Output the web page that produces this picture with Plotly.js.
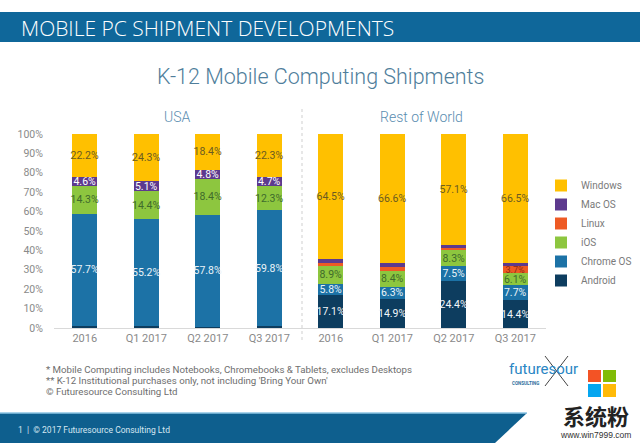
<!DOCTYPE html>
<html>
<head>
<meta charset="utf-8">
<script src="https://cdn.plot.ly/plotly-3.0.1.min.js"></script>
<style>
html,body{margin:0;padding:0;background:#fff;}
#chart{width:640px;height:443px;}
</style>
</head>
<body>
<div id="chart"></div>
<script>
// ---- data ----
const categories = ['2016', 'Q1 2017', 'Q2 2017', 'Q3 2017'];
const osNames = ['Android', 'Chrome OS', 'iOS', 'Linux', 'Mac OS', 'Windows'];

const usaAndroid = [1.2, 1.0, 0.6, 0.9];
const usaChrome  = [57.7, 55.2, 57.8, 59.8];
const usaIOS     = [14.3, 14.4, 18.4, 12.3];
const usaLinux   = [0.0, 0.0, 0.0, 0.0];
const usaMac     = [4.6, 5.1, 4.8, 4.7];
const usaWindows = [22.2, 24.3, 18.4, 22.3];

const rowAndroid = [17.1, 14.9, 24.4, 14.4];
const rowChrome  = [5.8, 6.3, 7.5, 7.7];
const rowIOS     = [8.9, 8.4, 8.3, 6.1];
const rowLinux   = [1.5, 1.7, 0.9, 3.7];
const rowMac     = [2.2, 2.0, 1.8, 1.6];
const rowWindows = [64.5, 66.6, 57.1, 66.5];

// which segments carry a printed label in the original
const usaLabelled = [false, true, true, false, true, true];
const rowLabelled = [[true,true,true,true],[true,true,true,true],[true,true,true,true],[false,false,false,true],[false,false,false,false],[true,true,true,true]];

const colors    = ['#0d3d5f', '#1c72a6', '#8dc63f', '#ee5a24', '#5d3a8e', '#ffc000'];
const textColor = ['#f2f6fa', '#eaf2f8', '#3f6b2c', '#8a2a12', '#ffffff', '#6b5b22'];
const textSize  = [10.5, 10.5, 10.5, 9, 10.5, 10.5];

const usaSeries = [usaAndroid, usaChrome, usaIOS, usaLinux, usaMac, usaWindows];
const rowSeries = [rowAndroid, rowChrome, rowIOS, rowLinux, rowMac, rowWindows];

const fmt = v => v.toFixed(1) + '%';
const traces = [];
osNames.forEach((name, k) => {
  traces.push({
    type: 'bar', name: name, x: categories, y: usaSeries[k],
    xaxis: 'x', yaxis: 'y', legendgroup: name, showlegend: true,
    marker: {color: colors[k], line: {width: 0}},
    text: usaSeries[k].map(v => usaLabelled[k] ? fmt(v) : ''),
    textposition: 'inside', insidetextanchor: 'middle', textangle: 0,
    constraintext: 'none',
    textfont: {family: 'Roboto', size: textSize[k], color: textColor[k]},
    hoverinfo: 'skip'
  });
  traces.push({
    type: 'bar', name: name, x: categories, y: rowSeries[k],
    xaxis: 'x2', yaxis: 'y2', legendgroup: name, showlegend: false,
    marker: {color: colors[k], line: {width: 0}},
    text: rowSeries[k].map((v, i) => rowLabelled[k][i] ? fmt(v) : ''),
    textposition: 'inside', insidetextanchor: 'middle', textangle: 0,
    constraintext: 'none',
    textfont: {family: 'Roboto', size: textSize[k], color: textColor[k]},
    hoverinfo: 'skip'
  });
});

const W = 640, H = 443;
const px = x => x / W;
const py = y => 1 - y / H;

const axisX = {
  type: 'category', showgrid: false, zeroline: false,
  showline: true, linecolor: '#d9d9d9', linewidth: 1,
  ticks: '', tickfont: {family: 'Roboto', size: 11, color: '#8a8a8a'},
  fixedrange: true
};

const layout = {
  width: W, height: H,
  margin: {l: 0, r: 0, t: 0, b: 0},
  paper_bgcolor: '#ffffff', plot_bgcolor: 'rgba(0,0,0,0)',
  barmode: 'stack', bargap: 0.6,
  showlegend: true,
  legend: {
    x: px(541), y: py(171), xanchor: 'left', yanchor: 'top',
    traceorder: 'reversed', itemwidth: 30,
    font: {family: 'Roboto', size: 10, color: '#7a7a7a'},
    bgcolor: 'rgba(0,0,0,0)', itemclick: false, itemdoubleclick: false
  },
  xaxis: Object.assign({}, axisX, {domain: [px(54), px(300)], anchor: 'y'}),
  xaxis2: Object.assign({}, axisX, {domain: [px(300), px(546)], anchor: 'y2'}),
  yaxis: {
    domain: [py(328), py(134)], range: [0, 100], dtick: 10, ticksuffix: '%',
    showgrid: false, zeroline: false, showline: false,
    ticks: 'outside', ticklen: 8, tickcolor: 'rgba(0,0,0,0)',
    tickfont: {family: 'Roboto', size: 10.5, color: '#8a8a8a'}, fixedrange: true
  },
  yaxis2: {
    domain: [py(328), py(134)], range: [0, 100], anchor: 'x2',
    showgrid: false, zeroline: false, showline: false, showticklabels: false,
    ticks: '', fixedrange: true
  },
  shapes: [
    // header band
    {type: 'rect', xref: 'paper', yref: 'paper', x0: 0, x1: 1, y0: py(42), y1: py(12),
     fillcolor: '#0f679a', line: {width: 0}, layer: 'below'},
    // bottom band (slanted)
    {type: 'path', xref: 'paper', yref: 'paper',
     path: `M 0 ${py(413)} L ${px(527)} ${py(413)} L ${px(495)} ${py(443)} L 0 ${py(443)} Z`,
     fillcolor: '#0e5f8e', line: {width: 0}, layer: 'below'},
    {type: 'line', xref: 'paper', yref: 'paper', x0: 0, x1: px(527), y0: py(413), y1: py(413),
     line: {color: '#8cc5e3', width: 1.5}},
    // separator between panels
    {type: 'line', xref: 'paper', yref: 'paper', x0: px(302), x1: px(302), y0: py(340), y1: py(108),
     line: {color: '#cfcfcf', width: 1, dash: 'dot'}},
    // futuresource star
    {type: 'line', xref: 'paper', yref: 'paper', x0: px(545), x1: px(568), y0: py(356), y1: py(386),
     line: {color: '#444', width: 1}},
    {type: 'line', xref: 'paper', yref: 'paper', x0: px(545), x1: px(568), y0: py(386), y1: py(356),
     line: {color: '#444', width: 1}},
    // windows-like logo
    {type: 'rect', xref: 'paper', yref: 'paper', x0: px(588), x1: px(601), y0: py(382), y1: py(370), fillcolor: '#f35325', line: {width: 0}},
    {type: 'rect', xref: 'paper', yref: 'paper', x0: px(603), x1: px(616), y0: py(382), y1: py(370), fillcolor: '#81bc06', line: {width: 0}},
    {type: 'rect', xref: 'paper', yref: 'paper', x0: px(588), x1: px(601), y0: py(397), y1: py(384), fillcolor: '#05a6f0', line: {width: 0}},
    {type: 'rect', xref: 'paper', yref: 'paper', x0: px(603), x1: px(616), y0: py(397), y1: py(384), fillcolor: '#ffba08', line: {width: 0}}
  ],
  annotations: [
    {text: 'MOBILE PC SHIPMENT DEVELOPMENTS', xref: 'paper', yref: 'paper', x: px(19), y: py(28),
     xanchor: 'left', yanchor: 'middle', showarrow: false,
     font: {family: 'Open Sans', size: 21, color: '#ffffff', weight: 300}},
    {text: 'K-12 Mobile Computing Shipments', xref: 'paper', yref: 'paper', x: px(320), y: py(77),
     xanchor: 'center', yanchor: 'middle', showarrow: false,
     font: {family: 'Roboto', size: 21.5, color: '#4f7e9b', weight: 300}},
    {text: 'USA', xref: 'paper', yref: 'paper', x: px(177), y: py(117),
     xanchor: 'center', yanchor: 'middle', showarrow: false,
     font: {family: 'Roboto', size: 14, color: '#5a8db0', weight: 300}},
    {text: 'Rest of World', xref: 'paper', yref: 'paper', x: px(421), y: py(117),
     xanchor: 'center', yanchor: 'middle', showarrow: false,
     font: {family: 'Roboto', size: 14, color: '#5a8db0', weight: 300}},
    {text: '* Mobile Computing includes Notebooks, Chromebooks &amp; Tablets, excludes Desktops', xref: 'paper', yref: 'paper',
     x: px(44), y: py(369), xanchor: 'left', yanchor: 'middle', showarrow: false,
     font: {family: 'Roboto', size: 9.7, color: '#6e6e6e'}},
    {text: "** K-12 Institutional purchases only, not including 'Bring Your Own'", xref: 'paper', yref: 'paper',
     x: px(44), y: py(380), xanchor: 'left', yanchor: 'middle', showarrow: false,
     font: {family: 'Roboto', size: 9.7, color: '#6e6e6e'}},
    {text: '© Futuresource Consulting Ltd', xref: 'paper', yref: 'paper',
     x: px(44), y: py(391), xanchor: 'left', yanchor: 'middle', showarrow: false,
     font: {family: 'Roboto', size: 9.7, color: '#6e6e6e'}},
    {text: '1  |  © 2017 Futuresource Consulting Ltd', xref: 'paper', yref: 'paper',
     x: px(16), y: py(430), xanchor: 'left', yanchor: 'middle', showarrow: false,
     font: {family: 'Roboto', size: 8.5, color: '#d6e7f2'}},
    {text: 'futuresour', xref: 'paper', yref: 'paper', x: px(507), y: py(369),
     xanchor: 'left', yanchor: 'middle', showarrow: false,
     font: {family: 'Roboto', size: 15, color: '#2a86c4'}},
    {text: 'CONSULTING', xref: 'paper', yref: 'paper', x: px(510), y: py(383),
     xanchor: 'left', yanchor: 'middle', showarrow: false,
     font: {family: 'Roboto', size: 4.5, color: '#2a6f9c', weight: 700}},
    {text: '系统粉', xref: 'paper', yref: 'paper', x: px(596), y: py(415),
     xanchor: 'center', yanchor: 'middle', showarrow: false,
     font: {family: 'Noto Sans CJK SC', size: 22, color: '#222222', weight: 700}},
    {text: 'www.win7999.com', xref: 'paper', yref: 'paper', x: px(595), y: py(435),
     xanchor: 'center', yanchor: 'middle', showarrow: false,
     font: {family: 'Liberation Sans', size: 8.5, color: '#333333'}}
  ]
};

Plotly.newPlot('chart', traces, layout, {staticPlot: true, displayModeBar: false});
</script>
</body>
</html>
